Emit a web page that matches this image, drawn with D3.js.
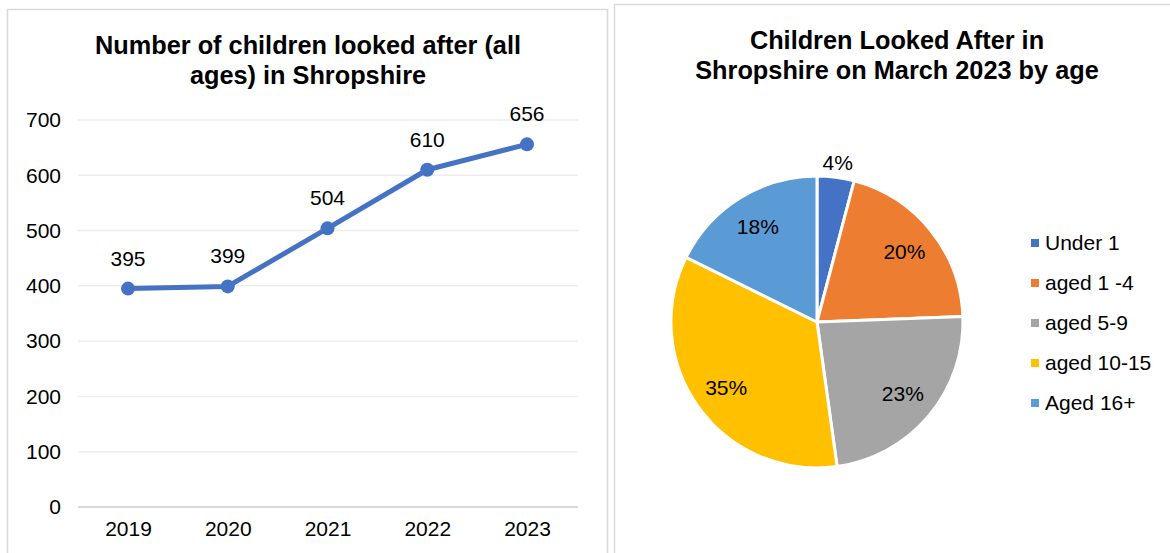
<!DOCTYPE html>
<html><head><meta charset="utf-8">
<script src="https://cdn.jsdelivr.net/npm/d3@7"></script>
<style>
html,body{margin:0;padding:0;background:#fff;}
svg text{font-family:"Liberation Sans",Arial,sans-serif;fill:#000;}
</style></head><body>
<svg id="chart" width="1170" height="553"></svg>
<script>
// ---- Data ----
const years = ["2019","2020","2021","2022","2023"];
const childrenLookedAfter = [395, 399, 504, 610, 656];
const yTicks = [0,100,200,300,400,500,600,700];

const ageGroups = ["Under 1","aged 1 -4","aged 5-9","aged 10-15","Aged 16+"];
const agePercents = [4.1, 20.3, 23.4, 34.5, 17.7];
const ageColors = ["#4472C4","#ED7D31","#A5A5A5","#FFC000","#5B9BD5"];

const lineTitle = ["Number of children looked after (all","ages) in Shropshire"];
const pieTitle = ["Children Looked After in","Shropshire on March 2023 by age"];

const svg = d3.select("#chart");

// panel borders
svg.append("rect").attr("x",7.5).attr("y",9.5).attr("width",600).attr("height",560)
  .attr("fill","#fff").attr("stroke","#D9D9D9").attr("stroke-width",1.5);
svg.append("rect").attr("x",614.5).attr("y",4.5).attr("width",570).attr("height",570)
  .attr("fill","#fff").attr("stroke","#D9D9D9").attr("stroke-width",1.5);

// ---- Line chart ----
const x = d3.scalePoint().domain(years).range([128,527]);
const y = d3.scaleLinear().domain([0,700]).range([507,120]);

lineTitle.forEach((t,i)=>{
  svg.append("text").attr("x",308).attr("y",54+i*30).attr("text-anchor","middle")
    .attr("font-size",25.3).attr("font-weight","bold").text(t);
});

// gridlines
svg.append("g").selectAll("line").data(yTicks).join("line")
  .attr("x1",78).attr("x2",578).attr("y1",d=>y(d)).attr("y2",d=>y(d))
  .attr("stroke",d=>d===0?"#D9D9D9":"#EDEDED").attr("stroke-width",d=>d===0?2:1.5);

// y axis labels
const yAxis = d3.axisLeft(y).tickValues(yTicks).tickSize(0).tickPadding(0);
const yg = svg.append("g").attr("transform","translate(61,0)").call(yAxis);
yg.select(".domain").remove();
yg.selectAll("text").attr("font-size",21).attr("font-family","Liberation Sans, Arial, sans-serif").attr("fill","#000");

// x axis labels
const xAxis = d3.axisBottom(x).tickSize(0).tickPadding(0);
const xg = svg.append("g").attr("transform","translate(0,521)").call(xAxis);
xg.select(".domain").remove();
xg.selectAll("text").attr("font-size",21).attr("font-family","Liberation Sans, Arial, sans-serif").attr("fill","#000");

const pts = years.map((yr,i)=>({yr, v: childrenLookedAfter[i]}));
svg.append("path").datum(pts)
  .attr("d", d3.line().x(d=>x(d.yr)).y(d=>y(d.v)))
  .attr("fill","none").attr("stroke","#4472C4").attr("stroke-width",5).attr("stroke-linejoin","round");
svg.append("g").selectAll("circle").data(pts).join("circle")
  .attr("cx",d=>x(d.yr)).attr("cy",d=>y(d.v)).attr("r",7).attr("fill","#4472C4");
svg.append("g").selectAll("text").data(pts).join("text")
  .attr("x",d=>x(d.yr)).attr("y",d=>y(d.v)-23).attr("text-anchor","middle")
  .attr("font-size",21).text(d=>d.v);

// ---- Pie chart ----
pieTitle.forEach((t,i)=>{
  svg.append("text").attr("x",897).attr("y",49+i*30).attr("text-anchor","middle")
    .attr("font-size",25.3).attr("font-weight","bold").text(t);
});

const cx = 817, cy = 322, R = 146;
const pie = d3.pie().sort(null).value(d=>d.v);
const arcs = pie(ageGroups.map((g,i)=>({g, v: agePercents[i], c: ageColors[i]})));
const arc = d3.arc().innerRadius(0).outerRadius(R);
const pg = svg.append("g").attr("transform",`translate(${cx},${cy})`);
pg.selectAll("path").data(arcs).join("path")
  .attr("d",arc).attr("fill",d=>d.data.c).attr("stroke","#fff").attr("stroke-width",3).attr("stroke-linejoin","round");

const labelArc = d3.arc().innerRadius(112).outerRadius(112);
const outArc = d3.arc().innerRadius(161).outerRadius(161);
pg.selectAll("text").data(arcs).join("text")
  .attr("transform",d=>{
    const c = (d.data.v < 8 ? outArc : labelArc).centroid(d);
    return `translate(${c[0]},${c[1]})`;
  })
  .attr("text-anchor","middle").attr("dy","0.35em").attr("font-size",21)
  .text(d=>Math.round(d.data.v)+"%");

// legend
const lg = svg.append("g");
ageGroups.forEach((g,i)=>{
  const yy = 243 + i*40;
  lg.append("rect").attr("x",1031).attr("y",yy-4).attr("width",8).attr("height",8).attr("fill",ageColors[i]);
  lg.append("text").attr("x",1045).attr("y",yy).attr("dy","0.35em").attr("font-size",21).text(g);
});
</script>
</body></html>
